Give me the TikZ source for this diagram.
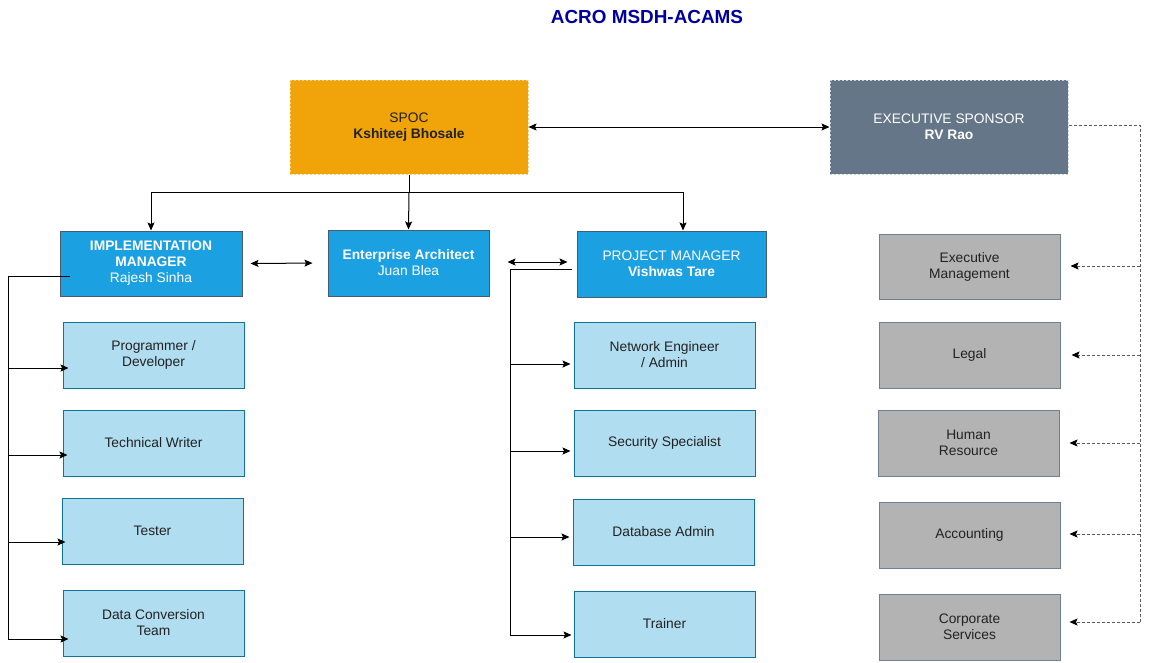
\documentclass[tikz,border=0pt]{standalone}
\usepackage{fontspec}
\setmainfont{Liberation Sans}
\usetikzlibrary{arrows.meta}
\definecolor{titleblue}{RGB}{0,0,160}
\definecolor{spocfill}{RGB}{240,164,10}
\definecolor{spocline}{RGB}{250,206,120}
\definecolor{execfill}{RGB}{100,118,135}
\definecolor{execline}{RGB}{200,208,216}
\definecolor{bluefill}{RGB}{27,161,226}
\definecolor{blueline}{RGB}{70,92,112}
\definecolor{lbfill}{RGB}{177,221,240}
\definecolor{lbline}{RGB}{16,115,158}
\definecolor{grayfill}{RGB}{179,179,179}
\definecolor{grayline}{RGB}{112,128,144}
\definecolor{txt}{RGB}{34,34,34}
\definecolor{dashgray}{RGB}{90,90,90}
\tikzset{
  box/.style={rectangle, inner sep=0pt, align=center, font=\fontsize{13.8}{16}\selectfont, line width=1pt},
  spocbox/.style={box, fill=spocfill, draw=spocline, dash pattern=on 2pt off 2pt, text=txt, minimum width=238pt, minimum height=94pt},
  execbox/.style={box, fill=execfill, draw=execline, dash pattern=on 2pt off 2pt, text=white, minimum width=238pt, minimum height=94pt},
  mgrbox/.style={box, fill=bluefill, draw=blueline, text=white, minimum height=66pt},
  teambox/.style={box, fill=lbfill, draw=lbline, text=txt, minimum width=181pt, minimum height=66pt},
  deptbox/.style={box, fill=grayfill, draw=grayline, text=txt, minimum width=181pt, minimum height=66pt},
  tip/.tip={Stealth[length=8pt,width=7pt,inset=1.5pt]},
  conn/.style={line width=1pt, draw=black},
  arr/.style={conn, -tip},
  darr/.style={conn, tip-tip},
  dconn/.style={line width=1pt, draw=dashgray, dash pattern=on 3pt off 2pt},
  darrow/.style={dconn, -{Stealth[length=8pt,width=7pt,inset=1.5pt,fill=black,color=black]}},
}
\begin{document}
\begin{tikzpicture}[x=1pt,y=-1pt]
\useasboundingbox (0,0) rectangle (1150,662);
\node[font=\fontsize{18.9}{22}\selectfont\bfseries, text=titleblue] (title) at (647,17) {ACRO MSDH-ACAMS};

\node[spocbox] (spoc) at (409,127) {SPOC\\\textbf{Kshiteej Bhosale}};
\node[execbox] (exec) at (949,127) {EXECUTIVE SPONSOR\\\textbf{RV Rao}};

\node[mgrbox, minimum width=182pt, minimum height=65pt] (im) at (151,263.5) {\textbf{IMPLEMENTATION}\\\textbf{MANAGER}\\Rajesh Sinha};
\node[mgrbox, minimum width=161pt] (ea) at (408.5,263) {\textbf{Enterprise Architect}\\Juan Blea};
\node[mgrbox, minimum width=189pt] (pm) at (671.5,264) {PROJECT MANAGER\\\textbf{Vishwas Tare}};

\node[teambox] (prog) at (153.5,355) {Programmer /\\Developer};
\node[teambox] (tw) at (153.5,443) {Technical Writer};
\node[teambox] (tester) at (152.5,531) {Tester};
\node[teambox] (dc) at (153.5,623) {Data Conversion\\Team};

\node[teambox] (ne) at (664.5,355) {Network Engineer\\/ Admin};
\node[teambox] (ss) at (664.5,443) {Security Specialist};
\node[teambox] (da) at (663.5,532) {Database Admin};
\node[teambox] (tr) at (664.5,624) {Trainer};

\node[deptbox, minimum height=65pt] (em) at (969.5,266.5) {Executive\\Management};
\node[deptbox] (legal) at (969.5,355) {Legal};
\node[deptbox] (hr) at (968.5,443) {Human\\Resource};
\node[deptbox] (acc) at (969.5,535) {Accounting};
\node[deptbox] (cs) at (969.5,627) {Corporate\\Services};

% top connections
\draw[darr] (spoc.east) -- (exec.west);
\coordinate (split) at (409,192);
\draw[conn] (spoc.south) -- (split);
\draw[arr] (split) -| (im.north);
\draw[arr] (split) -- (ea.north);
\draw[arr] (split) -| ([xshift=11.5pt]pm.north);
\draw[darr, shorten <=8pt, shorten >=15pt] (im.east) -- (ea.west);
\draw[darr, shorten <=18pt, shorten >=9pt] ([yshift=1pt]ea.east) -- ([yshift=2pt]pm.west);

% left tree
\coordinate (imin) at (70,276);
\coordinate (lt) at (8,276);
\coordinate (lb) at (8,639);
\draw[conn] (imin) -- (lt) -- (lb);
\coordinate (l1) at (8,368);
\coordinate (l2) at (8,455);
\coordinate (l3) at (8,542);
\draw[arr, shorten >=-6pt] (l1) -- (l1 -| prog.west);
\draw[arr, shorten >=-5pt] (l2) -- (l2 -| tw.west);
\draw[arr, shorten >=-4pt] (l3) -- (l3 -| tester.west);
\draw[arr, shorten >=-6pt] (lb) -- (lb -| dc.west);

% project manager tree
\coordinate (pmin) at (572,269);
\coordinate (pt) at (510,269);
\coordinate (pb) at (510,635);
\draw[conn] (pmin) -- (pt) -- (pb);
\coordinate (p1) at (510,364);
\coordinate (p2) at (510,451);
\coordinate (p3) at (510,537);
\draw[arr, shorten >=3pt] (p1) -- (p1 -| ne.west);
\draw[arr, shorten >=3pt] (p2) -- (p2 -| ss.west);
\draw[arr, shorten >=3pt] (p3) -- (p3 -| da.west);
\draw[arr, shorten >=2pt] (pb) -- (pb -| tr.west);

% executive sponsor dashed tree
\coordinate (et) at (1140,125);
\coordinate (eb) at (1140,622);
\draw[dconn] ([yshift=2pt]exec.east) -- (et) -- (eb);
\coordinate (e1) at (1140,266);
\coordinate (e2) at (1140,355);
\coordinate (e3) at (1140,443);
\coordinate (e4) at (1140,534);
\draw[darrow, shorten >=10pt] (e1) -- (e1 -| em.east);
\draw[darrow, shorten >=11pt] (e2) -- (e2 -| legal.east);
\draw[darrow, shorten >=10pt] (e3) -- (e3 -| hr.east);
\draw[darrow, shorten >=9pt] (e4) -- (e4 -| acc.east);
\draw[darrow, shorten >=9pt] (eb) -- (eb -| cs.east);
\end{tikzpicture}
\end{document}
